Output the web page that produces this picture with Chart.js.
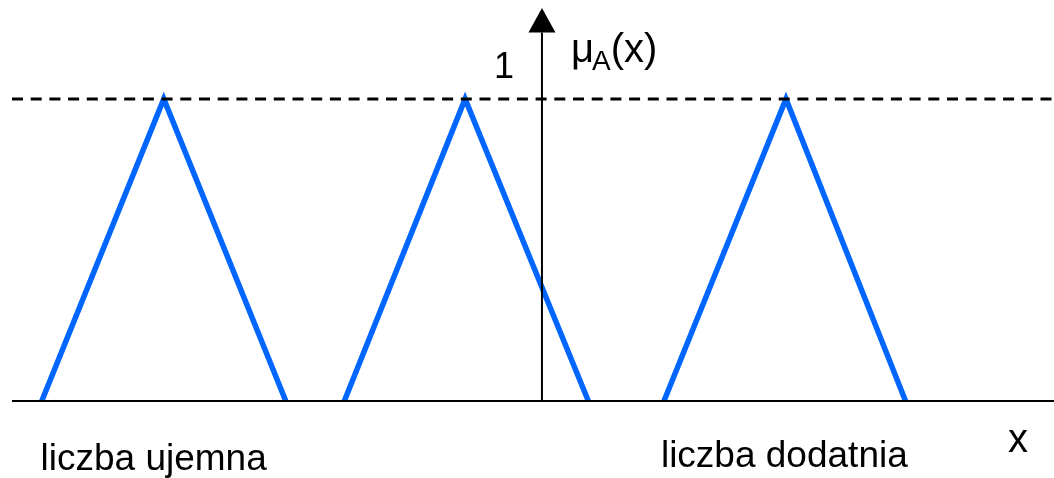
<!DOCTYPE html>
<html>
<head>
<meta charset="utf-8">
<script src="https://cdn.jsdelivr.net/npm/chart.js@4/dist/chart.umd.min.js"></script>
<style>
  html, body { margin: 0; padding: 0; background: #fff; }
  #wrap { width: 1054px; height: 478px; position: relative; }
  #probe { position: absolute; left: -9999px; font-family: "Liberation Sans"; }
</style>
</head>
<body>
<span id="probe">liczba μA(x)</span>
<div id="wrap"><canvas id="fuzzyChart" width="1054" height="478"></canvas></div>
<script>
// triangle membership functions (x in arbitrary units, axis at 0)
var triangle1X = [-4.1, -3.1, -2.1];
var triangle2X = [-1.62, -0.63, 0.38];
var triangle3X = [1.0, 2.0, 2.98];
var membership = [0, 1, 0];

var xRange = [-4.344, 4.197];
var yRange = [0, 1.301];
var axisTop = 1.22;

var labelText = ["liczba ujemna", "liczba dodatnia"];
var labelX = [-4.11, 0.975];
var labelY = [-0.228, -0.218];

var font = '"Liberation Sans", Arial, sans-serif';
var blue = "rgb(0, 102, 255)";

function points(xs, ys) {
  return xs.map(function (x, i) { return { x: x, y: ys[i] }; });
}

function line(data, color, width, dash) {
  return {
    data: data,
    showLine: true,
    borderColor: color,
    borderWidth: width,
    borderDash: dash || [],
    pointRadius: 0,
    tension: 0,
    fill: false,
  };
}

var decorations = {
  id: "decorations",
  afterDatasetsDraw: function (chart) {
    var c = chart.ctx;
    var xs = chart.scales.x;
    var ys = chart.scales.y;
    var x0 = xs.getPixelForValue(0);
    var top = ys.getPixelForValue(yRange[1]);
    var base = ys.getPixelForValue(axisTop);

    // arrow head on vertical axis
    c.save();
    c.fillStyle = "#000";
    c.beginPath();
    c.moveTo(x0, top);
    c.lineTo(x0 + 13.5, base);
    c.lineTo(x0 - 13.5, base);
    c.closePath();
    c.fill();

    c.textBaseline = "alphabetic";

    // "1" next to the axis
    c.font = "36px " + font;
    c.textAlign = "right";
    c.fillText("1", x0 - 28, ys.getPixelForValue(1.07));

    // mu_A(x)
    c.textAlign = "left";
    var mx = x0 + 29;
    var my = ys.getPixelForValue(1.123);
    c.font = "40px " + font;
    c.fillText("\u03bc", mx, my);
    var w = c.measureText("\u03bc").width;
    c.font = "28px " + font;
    c.fillText("A", mx + w - 2, my + 8);
    var wa = c.measureText("A").width;
    c.font = "40px " + font;
    c.fillText("(x)", mx + w + wa - 2, my);

    // category labels
    c.font = "37px " + font;
    labelText.forEach(function (t, i) {
      c.fillText(t, xs.getPixelForValue(labelX[i]), ys.getPixelForValue(labelY[i]));
    });

    // x axis name
    c.font = "40px " + font;
    c.textAlign = "right";
    c.fillText("x", xs.getPixelForValue(xRange[1]) - 26, ys.getPixelForValue(-0.168));
    c.restore();
  },
};

function draw() {
  var ctx = document.getElementById("fuzzyChart").getContext("2d");
  new Chart(ctx, {
    type: "scatter",
    data: {
      datasets: [
        line(points([xRange[0], xRange[1]], [0, 0]), "#000", 2),
        line(points([0, 0], [0, axisTop]), "#000", 2),
        line(points([xRange[0], xRange[1]], [1, 1]), "#000", 3, [11, 7.7]),
        line(points(triangle1X, membership), blue, 5.5),
        line(points(triangle2X, membership), blue, 5.5),
        line(points(triangle3X, membership), blue, 5.5),
      ],
    },
    options: {
      responsive: false,
      animation: false,
      clip: false,
      layout: { padding: { left: 12, right: 0, top: 8, bottom: 77 } },
      plugins: { legend: { display: false }, tooltip: { enabled: false } },
      scales: {
        x: { type: "linear", min: xRange[0], max: xRange[1], display: false },
        y: { type: "linear", min: yRange[0], max: yRange[1], display: false },
      },
    },
    plugins: [decorations],
  });
}

if (document.fonts && document.fonts.load) {
  document.fonts.load('36px "Liberation Sans"').then(draw, draw);
} else {
  draw();
}
</script>
</body>
</html>
